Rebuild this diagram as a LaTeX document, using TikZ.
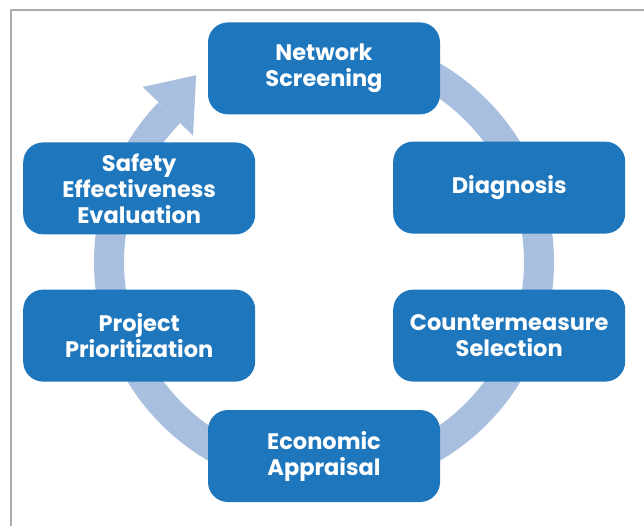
\documentclass[tikz,border=0pt]{standalone}
\usepackage{fontspec}
\setmainfont{Poppins}
\usepackage{xcolor}
\usepackage{tikz}
\usetikzlibrary{positioning, arrows.meta, calc}

\definecolor{stageblue}{RGB}{30,118,189}
\definecolor{ringblue}{RGB}{169,191,223}
\definecolor{framegray}{RGB}{172,172,172}

\tikzset{
  stage/.style={rectangle, rounded corners=0.5cm, fill=stageblue, draw=none,
    minimum width=5.8cm, minimum height=2.3cm, align=center, text=white,
    font=\fontsize{16}{18.5}\selectfont\bfseries},
  ring/.style={draw=ringblue, line width=0.75cm}
}

\begin{document}
\begin{tikzpicture}
\useasboundingbox (0, 0) rectangle (16.1, -13.125);

\draw[framegray, line width=1.2pt] (0.275, -13.2) -- (0.275, -0.25) -- (16.2, -0.25);

\coordinate (c) at (8.1, -6.55);

\begin{scope}[shift={(c)}]
\draw[ring] (90:5.375) arc[start angle=90, end angle=-224, radius=5.375];
\fill[ringblue] (136:4.55) -- (136:6.3) -- (124.4:5.66) -- cycle;
\end{scope}

\node[stage] (ns) at (8.1, -1.71) {Network\\Screening};
\node[stage] (diag) at (12.73, -4.69) {Diagnosis};
\node[stage] (cms) at (12.73, -8.39) {Countermeasure\\Selection};
\node[stage] (econ) at (8.1, -11.4) {Economic\\Appraisal};
\node[stage] (prio) at (3.48, -8.39) {Project\\Prioritization};
\node[stage] (eval) at (3.48, -4.71) {Safety\\Effectiveness\\Evaluation};
\end{tikzpicture}
\end{document}
